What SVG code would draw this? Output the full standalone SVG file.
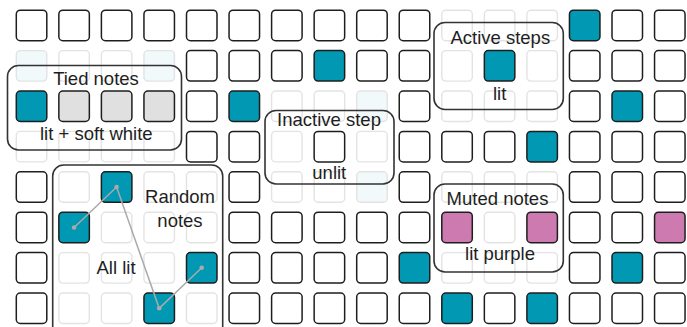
<svg xmlns="http://www.w3.org/2000/svg" width="687" height="327" viewBox="0 0 687 327">
<defs>
<style>
.c{stroke:#1e1e1e;stroke-width:1.5}
.w{fill:#fff}
.t{fill:#0098b2}
.g{fill:#e0e0e0}
.p{fill:#cc7ab0}
.f{fill:#fff;stroke:#e3e3e3;stroke-width:1.4}
.ft{fill:#f1f9fa;stroke:#e3e3e3;stroke-width:1.4}
.box{fill:none;stroke:#333;stroke-width:1.6}
.lbl{font-family:"Liberation Sans",Arial,sans-serif;font-size:18.5px;fill:#1e1e1e;text-anchor:middle}
.ln{fill:none;stroke:#aaa;stroke-width:1.5}
.dot{fill:#aaa}
</style>
<rect id="cell" width="30.5" height="30.5" rx="4"/>
</defs>
<rect width="687" height="327" fill="#fff"/>
<g id="grid">
<!-- row 0 -->
<use href="#cell" x="16.3" y="10.2" class="c w"/>
<use href="#cell" x="58.85" y="10.2" class="c w"/>
<use href="#cell" x="101.4" y="10.2" class="c w"/>
<use href="#cell" x="143.95" y="10.2" class="c w"/>
<use href="#cell" x="186.5" y="10.2" class="c w"/>
<use href="#cell" x="229.05" y="10.2" class="c w"/>
<use href="#cell" x="271.6" y="10.2" class="c w"/>
<use href="#cell" x="314.15" y="10.2" class="c w"/>
<use href="#cell" x="356.7" y="10.2" class="c w"/>
<use href="#cell" x="399.25" y="10.2" class="c w"/>
<use href="#cell" x="441.8" y="10.2" class="f"/>
<use href="#cell" x="484.35" y="10.2" class="f"/>
<use href="#cell" x="526.9" y="10.2" class="f"/>
<use href="#cell" x="569.45" y="10.2" class="c t"/>
<use href="#cell" x="612" y="10.2" class="c w"/>
<use href="#cell" x="654.55" y="10.2" class="c w"/>
<!-- row 1 -->
<use href="#cell" x="16.3" y="50.6" class="ft"/>
<use href="#cell" x="58.85" y="50.6" class="f"/>
<use href="#cell" x="101.4" y="50.6" class="f"/>
<use href="#cell" x="143.95" y="50.6" class="ft"/>
<use href="#cell" x="186.5" y="50.6" class="c w"/>
<use href="#cell" x="229.05" y="50.6" class="c w"/>
<use href="#cell" x="271.6" y="50.6" class="c w"/>
<use href="#cell" x="314.15" y="50.6" class="c t"/>
<use href="#cell" x="356.7" y="50.6" class="c w"/>
<use href="#cell" x="399.25" y="50.6" class="c w"/>
<use href="#cell" x="441.8" y="50.6" class="f"/>
<use href="#cell" x="484.35" y="50.6" class="c t"/>
<use href="#cell" x="526.9" y="50.6" class="f"/>
<use href="#cell" x="569.45" y="50.6" class="c w"/>
<use href="#cell" x="612" y="50.6" class="c w"/>
<use href="#cell" x="654.55" y="50.6" class="c w"/>
<!-- row 2 -->
<use href="#cell" x="16.3" y="91" class="c t"/>
<use href="#cell" x="58.85" y="91" class="c g"/>
<use href="#cell" x="101.4" y="91" class="c g"/>
<use href="#cell" x="143.95" y="91" class="c g"/>
<use href="#cell" x="186.5" y="91" class="c w"/>
<use href="#cell" x="229.05" y="91" class="c t"/>
<use href="#cell" x="271.6" y="91" class="f"/>
<use href="#cell" x="314.15" y="91" class="f"/>
<use href="#cell" x="356.7" y="91" class="ft"/>
<use href="#cell" x="399.25" y="91" class="c w"/>
<use href="#cell" x="441.8" y="91" class="f"/>
<use href="#cell" x="484.35" y="91" class="f"/>
<use href="#cell" x="526.9" y="91" class="f"/>
<use href="#cell" x="569.45" y="91" class="c w"/>
<use href="#cell" x="612" y="91" class="c t"/>
<use href="#cell" x="654.55" y="91" class="c w"/>
<!-- row 3 -->
<use href="#cell" x="16.3" y="131.4" class="f"/>
<use href="#cell" x="58.85" y="131.4" class="f"/>
<use href="#cell" x="101.4" y="131.4" class="f"/>
<use href="#cell" x="143.95" y="131.4" class="f"/>
<use href="#cell" x="186.5" y="131.4" class="c w"/>
<use href="#cell" x="229.05" y="131.4" class="c w"/>
<use href="#cell" x="271.6" y="131.4" class="f"/>
<use href="#cell" x="314.15" y="131.4" class="c w"/>
<use href="#cell" x="356.7" y="131.4" class="f"/>
<use href="#cell" x="399.25" y="131.4" class="c w"/>
<use href="#cell" x="441.8" y="131.4" class="c w"/>
<use href="#cell" x="484.35" y="131.4" class="c w"/>
<use href="#cell" x="526.9" y="131.4" class="c t"/>
<use href="#cell" x="569.45" y="131.4" class="c w"/>
<use href="#cell" x="612" y="131.4" class="c w"/>
<use href="#cell" x="654.55" y="131.4" class="c w"/>
<!-- row 4 -->
<use href="#cell" x="16.3" y="171.8" class="c w"/>
<use href="#cell" x="58.85" y="171.8" class="f"/>
<use href="#cell" x="101.4" y="171.8" class="c t"/>
<use href="#cell" x="143.95" y="171.8" class="f"/>
<use href="#cell" x="186.5" y="171.8" class="f"/>
<use href="#cell" x="229.05" y="171.8" class="c w"/>
<use href="#cell" x="271.6" y="171.8" class="f"/>
<use href="#cell" x="314.15" y="171.8" class="f"/>
<use href="#cell" x="356.7" y="171.8" class="ft"/>
<use href="#cell" x="399.25" y="171.8" class="c w"/>
<use href="#cell" x="441.8" y="171.8" class="f"/>
<use href="#cell" x="484.35" y="171.8" class="f"/>
<use href="#cell" x="526.9" y="171.8" class="f"/>
<use href="#cell" x="569.45" y="171.8" class="c w"/>
<use href="#cell" x="612" y="171.8" class="c w"/>
<use href="#cell" x="654.55" y="171.8" class="c w"/>
<!-- row 5 -->
<use href="#cell" x="16.3" y="212.2" class="c w"/>
<use href="#cell" x="58.85" y="212.2" class="c t"/>
<use href="#cell" x="101.4" y="212.2" class="f"/>
<use href="#cell" x="143.95" y="212.2" class="f"/>
<use href="#cell" x="186.5" y="212.2" class="f"/>
<use href="#cell" x="229.05" y="212.2" class="c w"/>
<use href="#cell" x="271.6" y="212.2" class="c w"/>
<use href="#cell" x="314.15" y="212.2" class="c w"/>
<use href="#cell" x="356.7" y="212.2" class="c w"/>
<use href="#cell" x="399.25" y="212.2" class="c w"/>
<use href="#cell" x="441.8" y="212.2" class="c p"/>
<use href="#cell" x="484.35" y="212.2" class="f"/>
<use href="#cell" x="526.9" y="212.2" class="c p"/>
<use href="#cell" x="569.45" y="212.2" class="c w"/>
<use href="#cell" x="612" y="212.2" class="c w"/>
<use href="#cell" x="654.55" y="212.2" class="c p"/>
<!-- row 6 -->
<use href="#cell" x="16.3" y="252.6" class="c w"/>
<use href="#cell" x="58.85" y="252.6" class="f"/>
<use href="#cell" x="101.4" y="252.6" class="f"/>
<use href="#cell" x="143.95" y="252.6" class="f"/>
<use href="#cell" x="186.5" y="252.6" class="c t"/>
<use href="#cell" x="229.05" y="252.6" class="c w"/>
<use href="#cell" x="271.6" y="252.6" class="c w"/>
<use href="#cell" x="314.15" y="252.6" class="c w"/>
<use href="#cell" x="356.7" y="252.6" class="c w"/>
<use href="#cell" x="399.25" y="252.6" class="c t"/>
<use href="#cell" x="441.8" y="252.6" class="f"/>
<use href="#cell" x="484.35" y="252.6" class="f"/>
<use href="#cell" x="526.9" y="252.6" class="f"/>
<use href="#cell" x="569.45" y="252.6" class="c w"/>
<use href="#cell" x="612" y="252.6" class="c t"/>
<use href="#cell" x="654.55" y="252.6" class="c w"/>
<!-- row 7 -->
<use href="#cell" x="16.3" y="293" class="c w"/>
<use href="#cell" x="58.85" y="293" class="f"/>
<use href="#cell" x="101.4" y="293" class="f"/>
<use href="#cell" x="143.95" y="293" class="c t"/>
<use href="#cell" x="186.5" y="293" class="f"/>
<use href="#cell" x="229.05" y="293" class="c w"/>
<use href="#cell" x="271.6" y="293" class="c w"/>
<use href="#cell" x="314.15" y="293" class="c w"/>
<use href="#cell" x="356.7" y="293" class="c w"/>
<use href="#cell" x="399.25" y="293" class="c w"/>
<use href="#cell" x="441.8" y="293" class="c t"/>
<use href="#cell" x="484.35" y="293" class="c w"/>
<use href="#cell" x="526.9" y="293" class="c t"/>
<use href="#cell" x="569.45" y="293" class="c w"/>
<use href="#cell" x="612" y="293" class="c w"/>
<use href="#cell" x="654.55" y="293" class="c w"/>
</g>
<g id="connectors">
<polyline class="ln" points="74.1,227.5 116.6,187 159.2,308.3 201.7,267.8"/>
<circle class="dot" cx="74.1" cy="227.5" r="2.3"/>
<circle class="dot" cx="116.6" cy="187" r="2.3"/>
<circle class="dot" cx="159.2" cy="308.3" r="2.3"/>
<circle class="dot" cx="201.7" cy="267.8" r="2.3"/>
</g>
<g id="tied-notes">
<rect class="box" x="7.5" y="65.5" width="174" height="84.5" rx="11"/>
<text class="lbl" x="96" y="85">Tied notes</text>
<text class="lbl" x="96.3" y="139.5">lit + soft white</text>
</g>
<g id="random-notes">
<rect class="box" x="52.7" y="165" width="170" height="180" rx="11"/>
<text class="lbl" x="180" y="203">Random</text>
<text class="lbl" x="180" y="227">notes</text>
<text class="lbl" x="116" y="273.5">All lit</text>
</g>
<g id="inactive-step">
<rect class="box" x="265" y="110.5" width="129" height="73.5" rx="11"/>
<text class="lbl" x="329" y="125.5">Inactive step</text>
<text class="lbl" x="329.3" y="178.5">unlit</text>
</g>
<g id="active-steps">
<rect class="box" x="434" y="22.5" width="129.3" height="87" rx="11"/>
<text class="lbl" x="500.3" y="43.5">Active steps</text>
<text class="lbl" x="499.7" y="100">lit</text>
</g>
<g id="muted-notes">
<rect class="box" x="434" y="184" width="129.3" height="88" rx="11"/>
<text class="lbl" x="497.5" y="205">Muted notes</text>
<text class="lbl" x="500" y="260">lit purple</text>
</g>
</svg>
